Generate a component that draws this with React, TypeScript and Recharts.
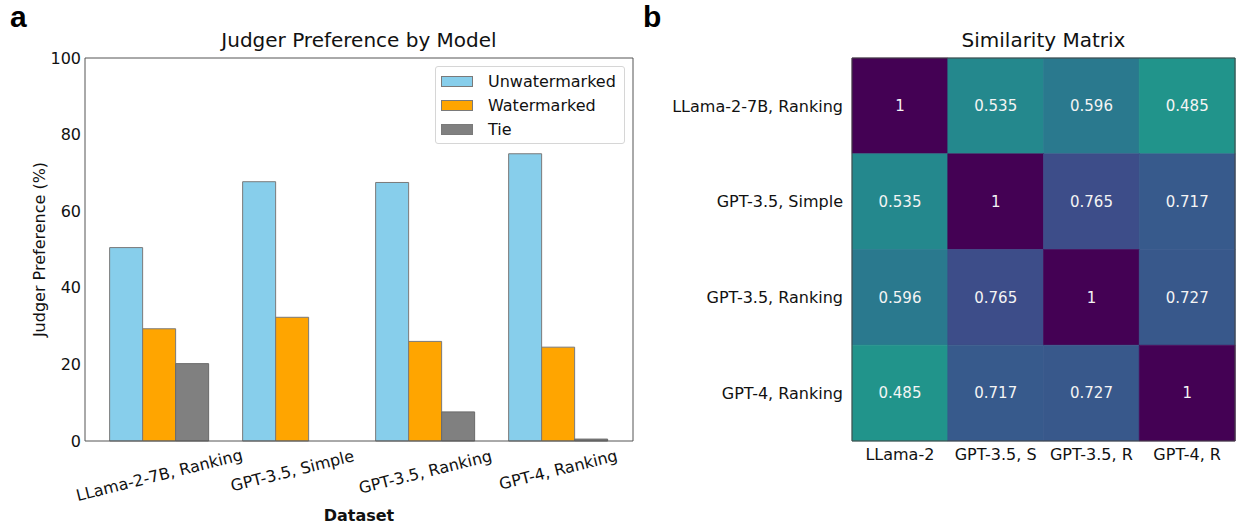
import React from 'react'
import { ComposedChart, Bar, Line, XAxis, YAxis, Legend, Cell, LabelList } from 'recharts'

// panel a: judger preference per dataset (%)
const datasets = ['LLama-2-7B, Ranking', 'GPT-3.5, Simple', 'GPT-3.5, Ranking', 'GPT-4, Ranking']
const unwatermarked = [50.5, 67.7, 67.5, 75.0]
const watermarked = [29.3, 32.3, 26.0, 24.5]
const tie = [20.2, 0, 7.6, 0.5]
const prefTicks = [0, 20, 40, 60, 80, 100]
const seriesNames = ['Unwatermarked', 'Watermarked', 'Tie']

// panel b: similarity matrix
const simRows = ['LLama-2-7B, Ranking', 'GPT-3.5, Simple', 'GPT-3.5, Ranking', 'GPT-4, Ranking']
const simCols = ['LLama-2', 'GPT-3.5, S', 'GPT-3.5, R', 'GPT-4, R']
const simMatrix = [
  [1, 0.535, 0.596, 0.485],
  [0.535, 1, 0.765, 0.717],
  [0.596, 0.765, 1, 0.727],
  [0.485, 0.717, 0.727, 1],
]

const FONT = '"DejaVu Sans", sans-serif'
const TEXT = '#111'
const FRAME = '#555'

const prefData = datasets.map((name, i) => ({
  name,
  unwatermarked: unwatermarked[i],
  watermarked: watermarked[i],
  tie: tie[i],
}))

const heatData = simCols.map((col, j) => {
  const row: Record<string, string | number> = { col }
  simRows.forEach((_, i) => {
    row[`cell${i}`] = 1 // one row unit per cell
    row[`val${i}`] = simMatrix[i][j]
  })
  return row
})

// viridis, reversed (1 -> dark purple)
const VIRIDIS = ['#440154', '#482475', '#414487', '#355f8d', '#2a788e', '#21918c', '#22a884', '#44bf70', '#7ad151', '#bddf26', '#fde725']
function viridisR(v: number) {
  const t = Math.min(1, Math.max(0, 1 - v)) * (VIRIDIS.length - 1)
  const i = Math.min(VIRIDIS.length - 2, Math.floor(t))
  const f = t - i
  const a = VIRIDIS[i], b = VIRIDIS[i + 1]
  const ch = (s: string, k: number) => parseInt(s.slice(1 + 2 * k, 3 + 2 * k), 16)
  const out = [0, 1, 2].map(k => Math.round(ch(a, k) + (ch(b, k) - ch(a, k)) * f))
  return `rgb(${out.join(',')})`
}

const TILT = 14
function SlantTick({ x, y, payload }: any) {
  const label = String(payload.value)
  const rad = (TILT * Math.PI) / 180
  const w = label.length * 0.56 * 16
  const yc = 7 + (w * Math.sin(rad) + 15 * Math.cos(rad)) / 2
  return (
    <g transform={`translate(${x},${y + yc}) rotate(${-TILT})`}>
      <text textAnchor="middle" dy="0.3em" fontSize={16} fill={TEXT}>{label}</text>
    </g>
  )
}

function PrefLegend({ payload }: any) {
  const items = (payload || [])
    .filter((p: any) => seriesNames.includes(p.value))
    .sort((a: any, b: any) => seriesNames.indexOf(a.value) - seriesNames.indexOf(b.value))
  return (
    <div style={{
      border: '1px solid #d6d6d6', borderRadius: 3, boxSizing: 'border-box',
      width: 190, height: 78, padding: '2px 0 0 5px', background: '#fff', fontFamily: FONT,
    }}>
      {items.map((p: any) => (
        <div key={p.value} style={{ display: 'flex', alignItems: 'center', height: 24.3 }}>
          <span style={{
            display: 'inline-block', width: 32, height: 11, background: p.color,
            border: '1px solid #7a7a7a', boxSizing: 'border-box', marginRight: 15,
          }} />
          <span style={{ fontSize: 16, color: TEXT }}>{p.value}</span>
        </div>
      ))}
    </div>
  )
}

function PreferenceChart() {
  return (
    <ComposedChart
      width={640} height={527} data={prefData}
      margin={{ top: 57, right: 6, bottom: 0, left: 25 }}
      barGap={0} barCategoryGap="12.5%"
      style={{ fontFamily: FONT }}
    >
      <XAxis
        dataKey="name" height={86} interval={0} padding={{ left: 8, right: 8 }}
        tickLine={false} tickSize={0} tickMargin={0} tick={<SlantTick />}
        axisLine={{ stroke: FRAME }}
        label={{ value: 'Dataset', position: 'insideBottom', offset: 6, fontSize: 16, fontWeight: 'bold', fill: TEXT }}
      />
      <XAxis xAxisId="top" dataKey="name" orientation="top" height={1} tick={false} tickLine={false} axisLine={{ stroke: FRAME }} />
      <YAxis
        width={60} domain={[0, 100]} ticks={prefTicks} interval={0}
        tickLine={false} tickSize={0} tickMargin={4}
        tick={{ fontSize: 16, fill: TEXT }} axisLine={{ stroke: FRAME }}
        label={{ value: 'Judger Preference (%)', angle: -90, position: 'center', dx: -16, fontSize: 16, fill: TEXT }}
      />
      <YAxis yAxisId="right" orientation="right" width={1} domain={[0, 100]} allowDataOverflow tick={false} tickLine={false} axisLine={{ stroke: FRAME }} />
      <Legend
        layout="horizontal" align="center" verticalAlign="middle"
        content={<PrefLegend />}
        wrapperStyle={{ top: 66, left: 435, width: 190, height: 78 }}
      />
      <Bar dataKey="unwatermarked" name="Unwatermarked" fill="#87ceeb" stroke="#7a7a7a" strokeWidth={1} isAnimationActive={false} />
      <Bar dataKey="watermarked" name="Watermarked" fill="#ffa500" stroke="#7a7a7a" strokeWidth={1} isAnimationActive={false} />
      <Bar dataKey="tie" name="Tie" fill="#808080" stroke="#6a6a6a" strokeWidth={1} isAnimationActive={false} />
      {/* invisible series so the top/right frame axes get drawn */}
      <Line dataKey="tie" xAxisId="top" yAxisId="right" stroke="none" dot={false} activeDot={false} legendType="none" isAnimationActive={false} />
    </ComposedChart>
  )
}

function SimilarityHeatmap() {
  return (
    <ComposedChart
      width={598} height={527} data={heatData}
      margin={{ top: 57, right: 2, bottom: 0, left: 12 }}
      barGap={0} barCategoryGap={0}
      style={{ fontFamily: FONT }}
    >
      <XAxis
        dataKey="col" height={86} interval={0}
        tickLine={false} tick={{ fontSize: 16, fill: TEXT }} axisLine={{ stroke: '#444' }}
      />
      <XAxis xAxisId="top" dataKey="col" orientation="top" height={1} tick={false} tickLine={false} axisLine={{ stroke: '#444' }} />
      <YAxis
        type="number" width={200} domain={[0, simRows.length]} reversed
        ticks={simRows.map((_, i) => i + 0.5)} interval={0}
        tickFormatter={(t: number) => simRows[Math.floor(t)]}
        tickLine={false} tickMargin={3} tick={{ fontSize: 16, fill: TEXT }} axisLine={{ stroke: '#444' }}
      />
      <YAxis yAxisId="right" orientation="right" width={1} domain={[0, simRows.length]} allowDataOverflow tick={false} tickLine={false} axisLine={{ stroke: '#444' }} />
      {simRows.map((_, i) => (
        <Bar key={i} dataKey={`cell${i}`} stackId="m" isAnimationActive={false}>
          {simCols.map((_, j) => {
            const c = viridisR(simMatrix[i][j])
            return <Cell key={j} fill={c} stroke={c} strokeWidth={0.6} />
          })}
          <LabelList dataKey={`val${i}`} position="center" fill="#f4f4f4" fontSize={15} />
        </Bar>
      ))}
      <Line dataKey="val0" xAxisId="top" yAxisId="right" stroke="none" dot={false} activeDot={false} legendType="none" isAnimationActive={false} />
    </ComposedChart>
  )
}

const letterStyle: React.CSSProperties = {
  position: 'absolute', top: 2, fontFamily: '"Liberation Sans", Arial, sans-serif',
  fontWeight: 'bold', fontSize: 30, lineHeight: 1, color: '#000',
}
const titleStyle: React.CSSProperties = {
  position: 'absolute', top: 30, fontSize: 20, lineHeight: 1, textAlign: 'center', color: TEXT, fontFamily: FONT,
}

export default function App() {
  return (
    <div style={{ position: 'absolute', left: 0, top: 0, width: 1238, height: 527, background: '#fff', overflow: 'hidden' }}>
      <div style={{ ...letterStyle, left: 10 }}>a</div>
      <div style={{ ...letterStyle, left: 643 }}>b</div>
      <div style={{ ...titleStyle, left: 85, width: 548 }}>Judger Preference by Model</div>
      <div style={{ ...titleStyle, left: 852, width: 383 }}>Similarity Matrix</div>
      <div style={{ position: 'absolute', left: 0, top: 0 }}>
        <PreferenceChart />
      </div>
      <div style={{ position: 'absolute', left: 640, top: 0 }}>
        <SimilarityHeatmap />
      </div>
    </div>
  )
}
